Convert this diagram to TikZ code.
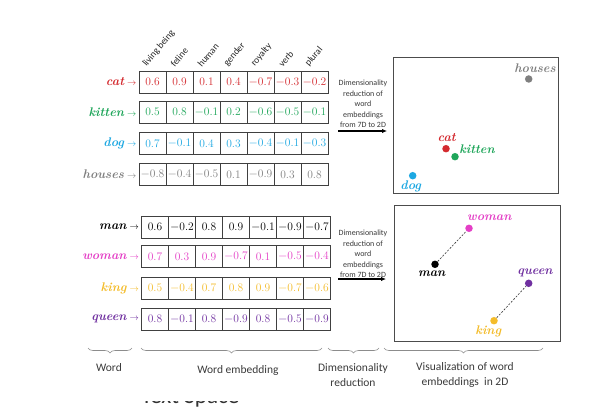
\documentclass[tikz,border=0pt]{standalone}
\usepackage{fontspec}
\newfontfamily\carlito{Carlito}
\usetikzlibrary{decorations.pathreplacing,arrows.meta}
\definecolor{ccat}{HTML}{D42A2F}
\definecolor{ckit}{HTML}{1FA65A}
\definecolor{cdog}{HTML}{1DA8E2}
\definecolor{chou}{HTML}{7F7F7F}
\definecolor{cman}{HTML}{000000}
\definecolor{cwom}{HTML}{E43FC6}
\definecolor{cking}{HTML}{F4BC2A}
\definecolor{cque}{HTML}{7030A0}
\definecolor{lab}{HTML}{3A3A3A}
\newcommand\negv{$-$}
\tikzset{
  cell/.style={draw=black!75, line width=0.8pt, minimum width=27pt, minimum height=22pt, inner sep=0pt, font=\fontsize{11.5}{12}\selectfont},
  wordlab/.style={anchor=east, inner sep=0pt, font=\fontsize{12.5}{14}\selectfont\bfseries\itshape},
  collab/.style={rotate=50, anchor=south west, inner sep=0pt, font=\carlito\fontsize{9.5}{10}\selectfont, text=black!85},
  pdot/.style={circle, inner sep=0pt, minimum size=7.5pt},
  plab/.style={inner sep=0pt, font=\fontsize{12.5}{14}\selectfont\bfseries\itshape},
  plotbox/.style={draw=black!70, line width=1pt, inner sep=0pt},
  midtext/.style={align=center, inner sep=0pt, font=\carlito\fontsize{8}{10.6}\selectfont, text=lab},
  redarrow/.style={-{Latex[length=5pt,width=4.5pt]}, line width=1.3pt},
  bracebig/.style={decorate, decoration={brace, mirror, amplitude=5pt}, draw=black!45, line width=0.6pt},
  bottomlab/.style={align=center, inner sep=0pt, font=\carlito\fontsize{11.5}{14.5}\selectfont, text=lab},
  pairline/.style={dashed, dash pattern=on 2pt off 1.5pt, line width=0.6pt, draw=black!80}
}
\newcommand\vecrow[5]{%
  \node[wordlab, text=#2] (#1-w) at ({#3-2.5}, {#4+11}) {#1\hspace{3pt}{\normalfont\fontsize{9}{9}\selectfont$\rightarrow$}};
  \foreach \v [count=\i] in {#5} {
    \node[cell, text=#2] (#1-\i) at ({#3+27*(\i-1)+13.5}, {#4+11}) {\v};
  }
}
\begin{document}
\begin{tikzpicture}[x=1pt,y=-1pt]
\fill[white] (0,0) rectangle (607,417);
\useasboundingbox (0,0) rectangle (607,417);

% column labels
\foreach \lab [count=\i] in {living being, feline, human, gender, royalty, verb, plural} {
  \node[collab] (col\i) at ({139+27*(\i-1)+9}, 68) {\lab};
}

% upper table
\vecrow{cat}{ccat}{139}{71}{0.6,0.9,0.1,0.4,\negv0.7,\negv0.3,\negv0.2}
\vecrow{kitten}{ckit}{139}{101}{0.5,0.8,\negv0.1,0.2,\negv0.6,\negv0.5,\negv0.1}
\vecrow{dog}{cdog}{139}{132.5}{0.7,\negv0.1,0.4,0.3,\negv0.4,\negv0.1,\negv0.3}
\vecrow{houses}{chou}{139}{163.5}{\negv0.8,\negv0.4,\negv0.5,0.1,\negv0.9,0.3,0.8}

% lower table
\vecrow{man}{cman}{141.5}{216}{0.6,\negv0.2,0.8,0.9,\negv0.1,\negv0.9,\negv0.7}
\vecrow{woman}{cwom}{141.5}{245.5}{0.7,0.3,0.9,\negv0.7,0.1,\negv0.5,\negv0.4}
\vecrow{king}{cking}{141.5}{277}{0.5,\negv0.4,0.7,0.8,0.9,\negv0.7,\negv0.6}
\vecrow{queen}{cque}{141.5}{308}{0.8,\negv0.1,0.8,\negv0.9,0.8,\negv0.5,\negv0.9}

% middle texts and arrows
\node[midtext] (mid1) at (363,104) {Dimensionality\\reduction of\\word\\embeddings\\from 7D to 2D};
\coordinate (a1s) at (338,131);
\coordinate (a1e) at (387,131);
\draw[redarrow] (a1s) -- (a1e);
\node[midtext] (mid2) at (363,254) {Dimensionality\\reduction of\\word\\embeddings\\from 7D to 2D};
\coordinate (a2s) at (338,279);
\coordinate (a2e) at (386,279);
\draw[redarrow] (a2s) -- (a2e);

% plot boxes
\node[plotbox, minimum width=165pt, minimum height=135pt] (box1) at (475.5,125.5) {};
\node[plotbox, minimum width=166pt, minimum height=136pt] (box2) at (477,273) {};

% upper plot
\node[pdot, fill=chou] (phou) at (528.7,79) {};
\node[plab, text=chou] (lhou) at (535,68) {houses};
\node[pdot, fill=ccat] (pcat) at (446,148.7) {};
\node[plab, text=ccat] (lcat) at (446.7,138) {cat};
\node[pdot, fill=ckit] (pkit) at (455,156.7) {};
\node[plab, text=ckit] (lkit) at (477,149) {kitten};
\node[pdot, fill=cdog] (pdog) at (412.7,175.7) {};
\node[plab, text=cdog] (ldog) at (410.7,186) {dog};

% lower plot
\node[pdot, fill=cwom] (pwom) at (469,228.3) {};
\node[plab, text=cwom] (lwom) at (489.3,218) {woman};
\node[pdot, fill=cman] (pman) at (435,264.3) {};
\node[plab, text=cman] (lman) at (431.7,273.3) {man};
\node[pdot, fill=cque] (pque) at (528.7,283.3) {};
\node[plab, text=cque] (lque) at (535,272.7) {queen};
\node[pdot, fill=cking] (pking) at (494,320.7) {};
\node[plab, text=cking] (lking) at (488.3,331) {king};
\draw[pairline] (pman) -- (pwom);
\draw[pairline] (pking) -- (pque);

% braces
\coordinate (b1l) at (88,348);   \coordinate (b1r) at (132,348);
\coordinate (b2l) at (141,348);  \coordinate (b2r) at (322,348);
\coordinate (b3l) at (328,348);  \coordinate (b3r) at (379,348);
\coordinate (b4l) at (384,348);  \coordinate (b4r) at (543,348);
\draw[bracebig] (b1l) -- (b1r);
\draw[bracebig] (b2l) -- (b2r);
\draw[bracebig] (b3l) -- (b3r);
\draw[bracebig] (b4l) -- (b4r);
\node[bottomlab] (tword) at (109,368) {Word};
\node[bottomlab] (temb) at (238,370) {Word embedding};
\node[bottomlab] (tdim) at (353,375) {Dimensionality\\reduction};
\node[bottomlab] (tvis) at (465,375) {Visualization of word\\embeddings\ \ in 2D};

% clipped remnant of a title below
\begin{scope}
  \clip (130,401) rectangle (260,417);
  \node[anchor=base west, inner sep=0pt, font=\carlito\fontsize{23}{23}\selectfont, text=black!80] (tspace) at (141,403.5) {Text Space};
\end{scope}
\end{tikzpicture}
\end{document}
